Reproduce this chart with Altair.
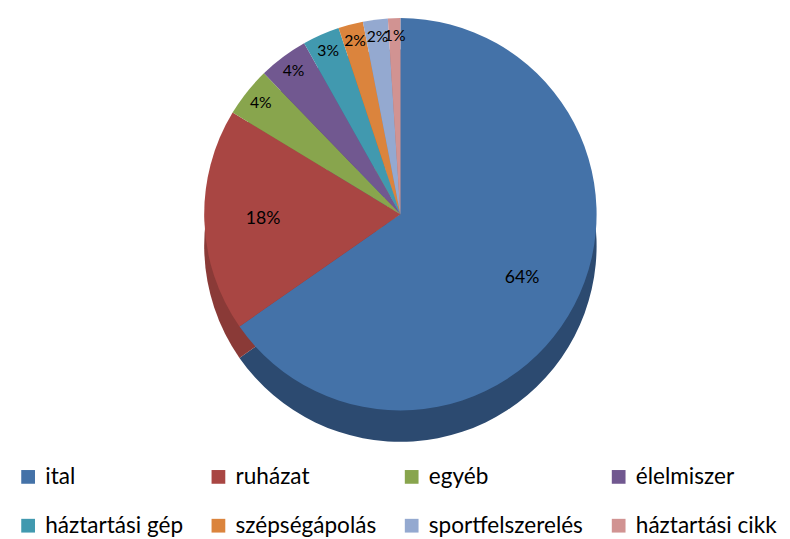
import altair as alt
import pandas as pd

categories = ["ital", "ruházat", "egyéb", "élelmiszer", "háztartási gép",
              "szépségápolás", "sportfelszerelés", "háztartási cikk"]
values = [64, 18, 4, 4, 3, 2, 2, 1]
colors = ["#4472a8", "#a94643", "#88a54d", "#715890", "#4199af",
          "#db843d", "#94a9d0", "#d19392"]
side_colors = ["#2c4a70", "#8a3a37", "#6d843e", "#5a4673", "#347a8c",
               "#af6a31", "#7687a6", "#a77675"]

df = pd.DataFrame({
    "kategória": categories,
    "oldal": [c + " " for c in categories],
    "érték": values,
    "sorrend": list(range(len(categories))),
    "címke": [f"{v}%" for v in values],
})

R = 200
CX = 395
CY = 195
DEPTH = 32
FONT = "Lato"

base = alt.Chart(df)
theta = alt.Theta("érték:Q", stack=True)
order = alt.Order("sorrend:Q")

side = base.mark_arc(radius=R).encode(
    theta=theta,
    order=order,
    color=alt.Color("oldal:N", scale=alt.Scale(domain=[c + " " for c in categories], range=side_colors), legend=None),
    x=alt.value(CX),
    y=alt.value(CY + DEPTH),
)

top = base.mark_arc(radius=R).encode(
    theta=theta,
    order=order,
    color=alt.Color(
        "kategória:N",
        scale=alt.Scale(domain=categories, range=colors),
        sort=categories,
        legend=alt.Legend(
            title=None,
            orient="none",
            legendX=4,
            legendY=451,
            direction="horizontal",
            columns=4,
            symbolType="square",
            symbolSize=196,
            symbolStrokeWidth=0,
            labelFont=FONT,
            labelFontSize=23,
            labelColor="#000000",
            labelOffset=6,
            columnPadding=24,
            rowPadding=26,
            labelLimit=300,
            padding=0,
        ),
    ),
    x=alt.value(CX),
    y=alt.value(CY),
)

big_labels = base.transform_filter("datum['érték'] >= 10").mark_text(
    radius=R * 0.7, font=FONT, fontSize=18, color="#000000"
).encode(
    theta=theta, order=order, text="címke:N", x=alt.value(CX), y=alt.value(CY)
)

small_labels = base.mark_text(
    radius=R * 0.91, font=FONT, fontSize=16, color="#000000"
).encode(
    theta=theta, order=order, text=alt.condition("datum['érték'] < 10", "címke:N", alt.value("")),
    x=alt.value(CX), y=alt.value(CY)
)

chart = alt.layer(side, top, big_labels, small_labels).resolve_scale(
    color="independent"
).properties(
    width=774, height=523, background="#ffffff"
).configure_view(strokeWidth=0, stroke=None)

chart.save("out.html", embed_options={"renderer": "svg", "actions": False})
